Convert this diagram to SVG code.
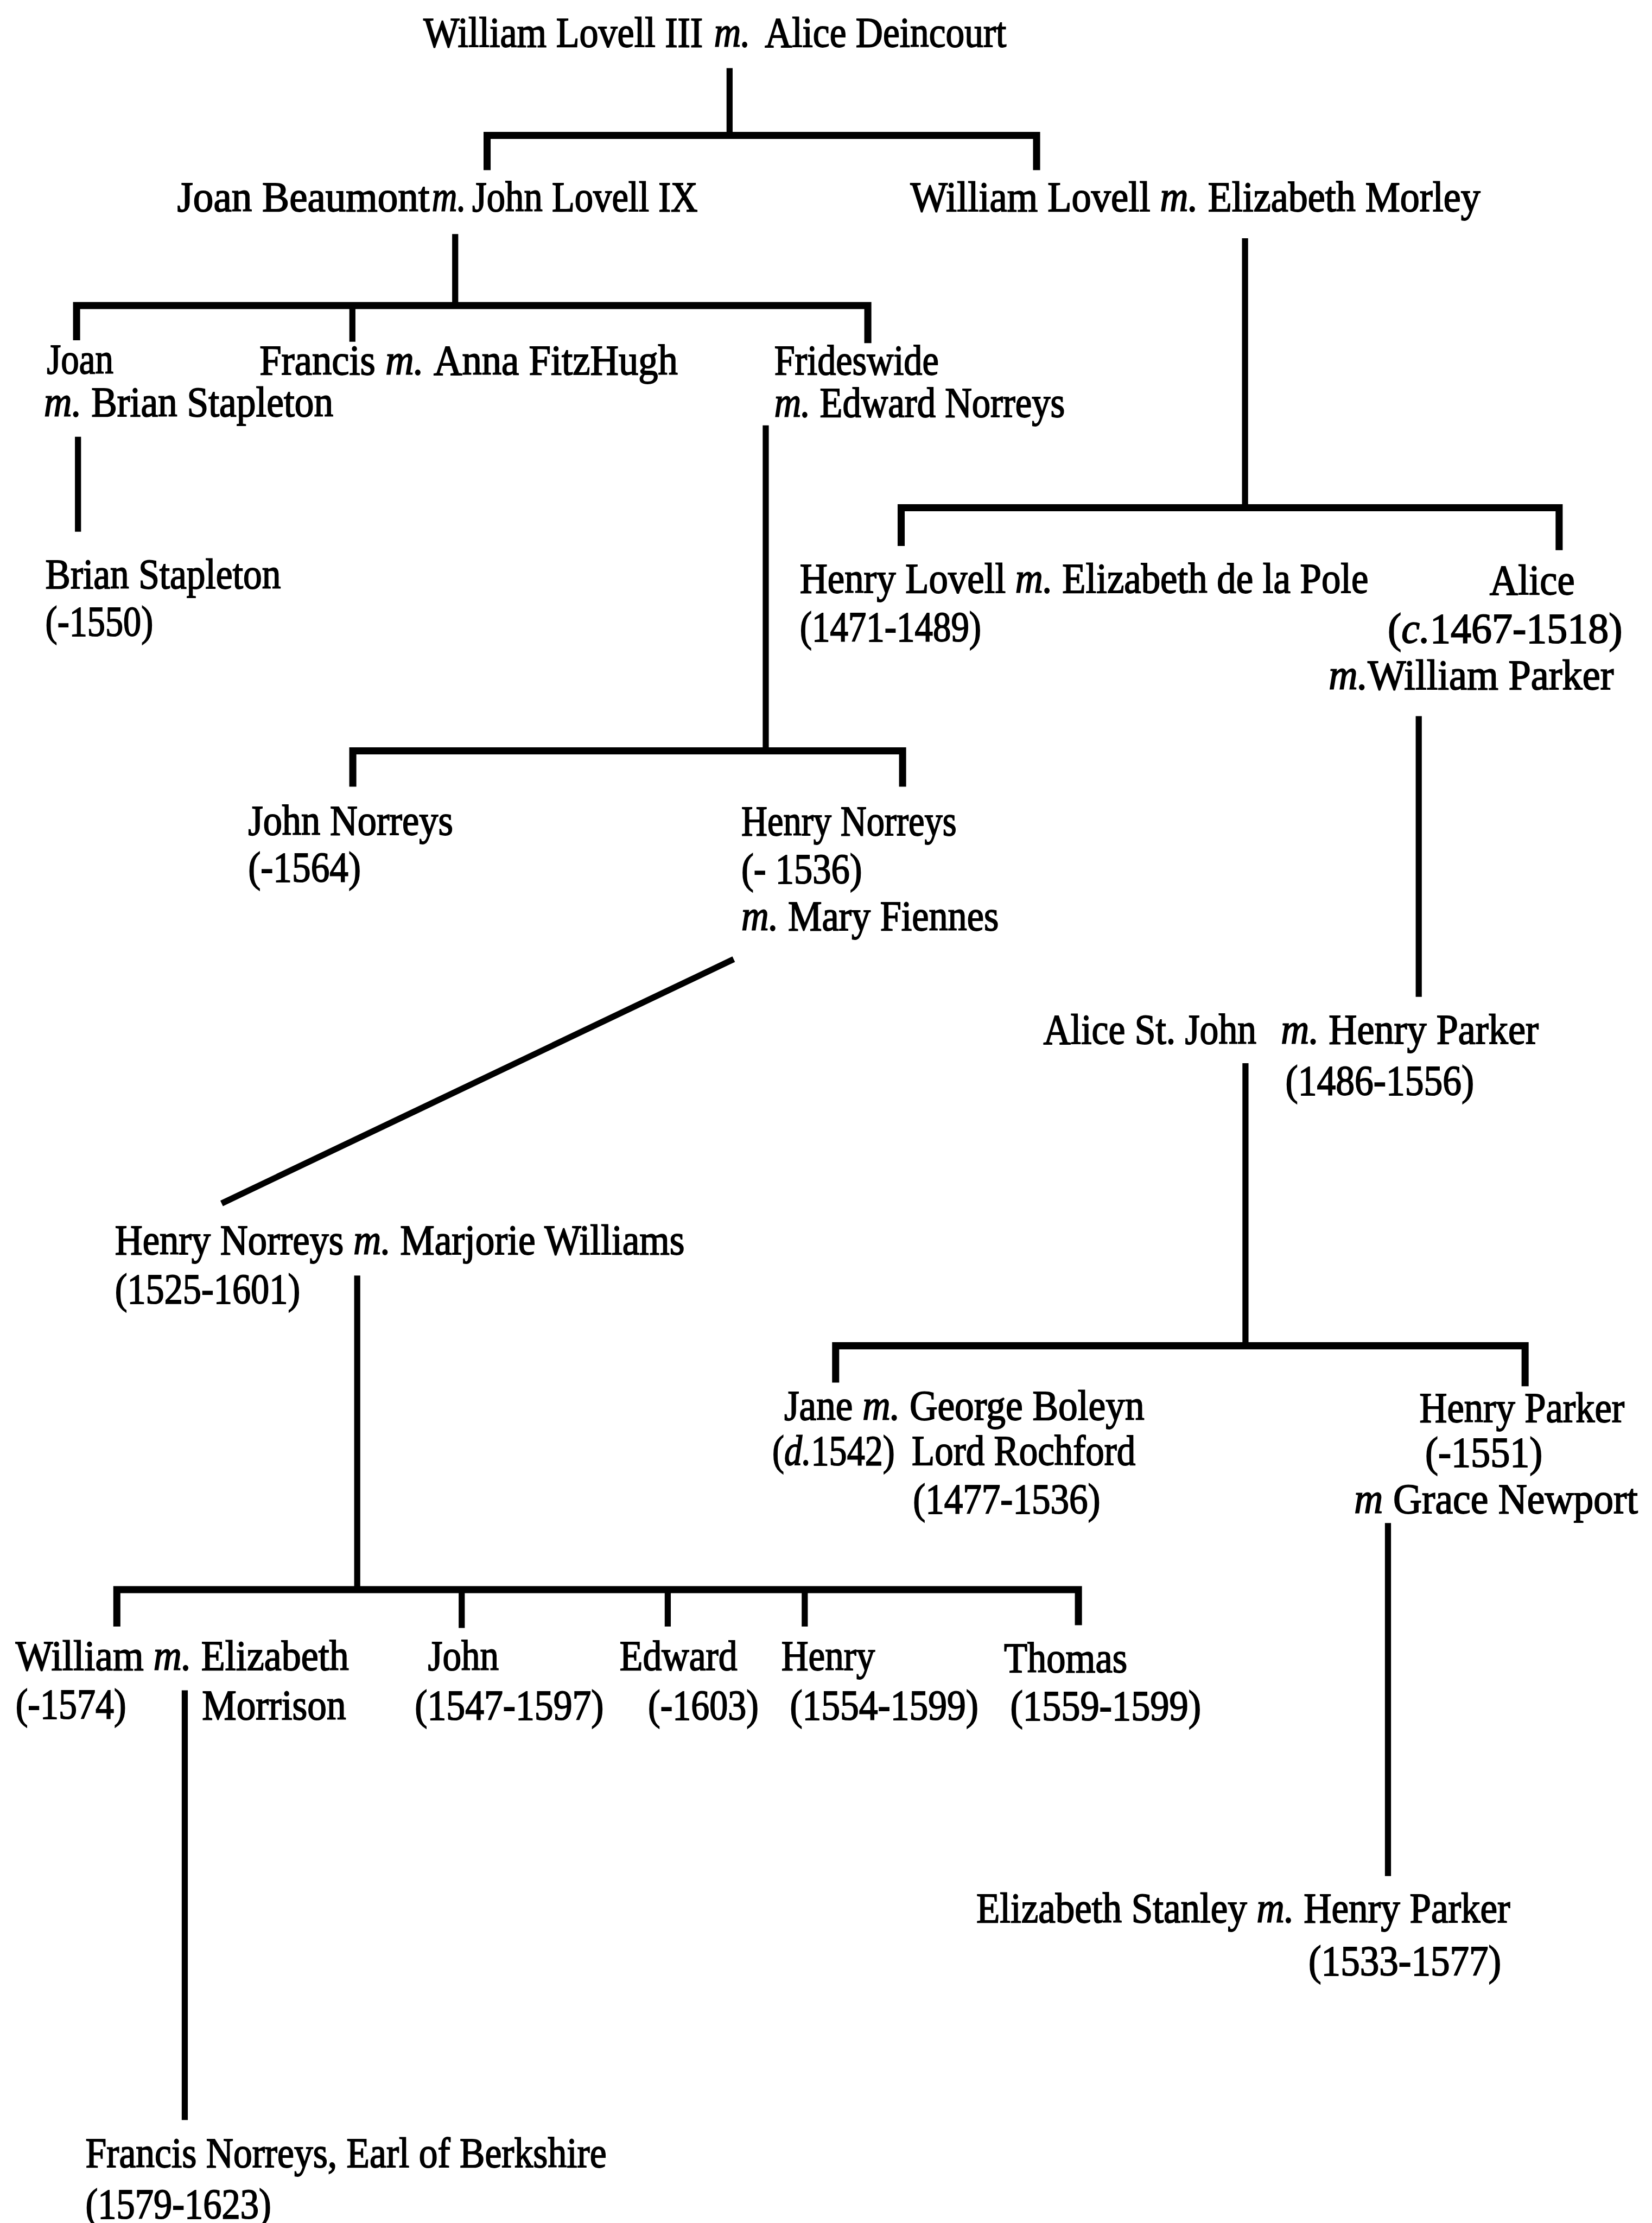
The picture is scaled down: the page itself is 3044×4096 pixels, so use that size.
<svg xmlns="http://www.w3.org/2000/svg" width="3044" height="4096" viewBox="0 0 3044 4096">
  <style>
    text { font-family: "Liberation Serif", "Times New Roman", serif; font-size: 30px; fill: #000; stroke: #000; stroke-width: 0.7px; }
    .i { font-style: italic; }
    .ln { fill: none; stroke: #000; stroke-width: 4.3px; stroke-linejoin: miter; stroke-linecap: butt; }
    .bar { fill: none; stroke: #000; stroke-width: 5px; stroke-linejoin: miter; stroke-linecap: butt; }
  </style>
  <rect width="3044" height="4096" fill="#fff"/>
  <g transform="scale(2.6129)">
    <!-- descent lines -->
    <g id="connectors">
      <path class="ln" d="M514.5 48 V95.5"/>
      <path class="bar" d="M343.5 120 V95.5 H731 V120"/>
      <path class="ln" d="M321 165 V215.5"/>
      <path class="bar" d="M54 240 V215.5 H612 V242"/>
      <path class="ln" d="M248.5 215.5 V241"/>
      <path class="ln" d="M878 168 V358"/>
      <path class="bar" d="M635.5 385 V358 H1099.5 V388"/>
      <path class="ln" d="M55 308 V375"/>
      <path class="ln" d="M540 300 V529.5"/>
      <path class="bar" d="M248.8 554.7 V529.5 H636.5 V554.7"/>
      <path class="ln" d="M1000.5 505 V703"/>
      <path class="ln" d="M517.4 676.4 L156.3 848.6"/>
      <path class="ln" d="M878.3 749.7 V949"/>
      <path class="bar" d="M589.3 975 V949 H1075.5 V977.6"/>
      <path class="ln" d="M978.8 1074 V1323"/>
      <path class="ln" d="M251.9 899.5 V1121"/>
      <path class="bar" d="M82.4 1147 V1121 H760.5 V1146"/>
      <path class="ln" d="M325.6 1121 V1148"/>
      <path class="ln" d="M470.9 1121 V1147"/>
      <path class="ln" d="M567.5 1121 V1147"/>
      <path class="ln" d="M130.3 1192 V1495"/>
    </g>

    <!-- people and couples; the type is a condensed serif, so the labels are squeezed to 90% width; "m." (married) in italic -->
    <g transform="scale(0.9 1)">
      <g id="william-lovell-iii">
        <text x="331.78" y="33" textLength="219" lengthAdjust="spacingAndGlyphs">William Lovell III</text>
        <text class="i" x="559.5" y="33" textLength="28.33" lengthAdjust="spacingAndGlyphs">m.</text>
        <text x="599.22" y="33" textLength="189.33" lengthAdjust="spacingAndGlyphs">Alice Deincourt</text>
      </g>
      <g id="john-lovell-ix">
        <text x="138.89" y="149" textLength="197.78" lengthAdjust="spacingAndGlyphs">Joan Beaumont</text>
        <text class="i" x="338.44" y="149" textLength="26.67" lengthAdjust="spacingAndGlyphs">m.</text>
        <text x="370" y="149" textLength="176.67" lengthAdjust="spacingAndGlyphs">John Lovell IX</text>
      </g>
      <g id="william-lovell">
        <text x="713.33" y="149" textLength="188" lengthAdjust="spacingAndGlyphs">William Lovell</text>
        <text class="i" x="909" y="149" textLength="29.78" lengthAdjust="spacingAndGlyphs">m.</text>
        <text x="946.44" y="149" textLength="213.56" lengthAdjust="spacingAndGlyphs">Elizabeth Morley</text>
      </g>
      <g id="joan">
        <text x="36.67" y="263.5" textLength="52.22" lengthAdjust="spacingAndGlyphs">Joan</text>
        <text class="i" x="34.44" y="293.7" textLength="29.44" lengthAdjust="spacingAndGlyphs">m.</text>
        <text x="71.56" y="293.7" textLength="189.56" lengthAdjust="spacingAndGlyphs">Brian Stapleton</text>
      </g>
      <g id="francis">
        <text x="203.33" y="264" textLength="90.89" lengthAdjust="spacingAndGlyphs">Francis</text>
        <text class="i" x="302" y="264" textLength="30" lengthAdjust="spacingAndGlyphs">m.</text>
        <text x="339.78" y="264" textLength="191.33" lengthAdjust="spacingAndGlyphs">Anna FitzHugh</text>
      </g>
      <g id="frideswide">
        <text x="606.67" y="264" textLength="128.89" lengthAdjust="spacingAndGlyphs">Frideswide</text>
        <text class="i" x="606.67" y="294" textLength="28.33" lengthAdjust="spacingAndGlyphs">m.</text>
        <text x="642.33" y="294" textLength="192.11" lengthAdjust="spacingAndGlyphs">Edward Norreys</text>
      </g>
      <g id="brian-stapleton">
        <text x="35.56" y="415" textLength="184.44" lengthAdjust="spacingAndGlyphs">Brian Stapleton</text>
        <text x="35.56" y="448" textLength="84.44" lengthAdjust="spacingAndGlyphs">(-1550)</text>
      </g>
      <g id="henry-lovell">
        <text x="626.67" y="418" textLength="161.33" lengthAdjust="spacingAndGlyphs">Henry Lovell</text>
        <text class="i" x="795.56" y="418" textLength="29.22" lengthAdjust="spacingAndGlyphs">m.</text>
        <text x="832.33" y="418" textLength="239.89" lengthAdjust="spacingAndGlyphs">Elizabeth de la Pole</text>
        <text x="626.67" y="452" textLength="142.22" lengthAdjust="spacingAndGlyphs">(1471-1489)</text>
      </g>
      <g id="alice-lovell">
        <text x="1167.22" y="419" textLength="66.67" lengthAdjust="spacingAndGlyphs">Alice</text>
        <text x="1087.33" y="453" textLength="10.78" lengthAdjust="spacingAndGlyphs">(</text>
        <text class="i" x="1098.11" y="453" textLength="22.44" lengthAdjust="spacingAndGlyphs">c.</text>
        <text x="1120.56" y="453" textLength="150.67" lengthAdjust="spacingAndGlyphs">1467-1518)</text>
        <text class="i" x="1041.11" y="486" textLength="30.56" lengthAdjust="spacingAndGlyphs">m.</text>
        <text x="1071.67" y="486" textLength="192.78" lengthAdjust="spacingAndGlyphs">William Parker</text>
      </g>
      <g id="john-norreys">
        <text x="194.44" y="588.8" textLength="160.56" lengthAdjust="spacingAndGlyphs">John Norreys</text>
        <text x="194.44" y="621.7" textLength="88.33" lengthAdjust="spacingAndGlyphs">(-1564)</text>
      </g>
      <g id="henry-norreys-1536">
        <text x="580.89" y="589" textLength="168.67" lengthAdjust="spacingAndGlyphs">Henry Norreys</text>
        <text x="580.89" y="622.5" textLength="94.67" lengthAdjust="spacingAndGlyphs">(- 1536)</text>
        <text class="i" x="580.89" y="656" textLength="29" lengthAdjust="spacingAndGlyphs">m.</text>
        <text x="617.44" y="656" textLength="165.11" lengthAdjust="spacingAndGlyphs">Mary Fiennes</text>
      </g>
      <g id="henry-parker-1556">
        <text x="817.56" y="736" textLength="166.89" lengthAdjust="spacingAndGlyphs">Alice St. John</text>
        <text class="i" x="1003.67" y="736" textLength="29.78" lengthAdjust="spacingAndGlyphs">m.</text>
        <text x="1041.11" y="736" textLength="164.44" lengthAdjust="spacingAndGlyphs">Henry Parker</text>
        <text x="1007.22" y="771.8" textLength="147.78" lengthAdjust="spacingAndGlyphs">(1486-1556)</text>
      </g>
      <g id="henry-norreys-1601">
        <text x="90" y="884.5" textLength="179.33" lengthAdjust="spacingAndGlyphs">Henry Norreys</text>
        <text class="i" x="276.89" y="884.5" textLength="29.22" lengthAdjust="spacingAndGlyphs">m.</text>
        <text x="313.56" y="884.5" textLength="222.89" lengthAdjust="spacingAndGlyphs">Marjorie Williams</text>
        <text x="90" y="919" textLength="145.22" lengthAdjust="spacingAndGlyphs">(1525-1601)</text>
      </g>
      <g id="jane-parker">
        <text x="614.44" y="1001" textLength="53.78" lengthAdjust="spacingAndGlyphs">Jane</text>
        <text class="i" x="675.78" y="1001" textLength="29.44" lengthAdjust="spacingAndGlyphs">m.</text>
        <text x="712.67" y="1001" textLength="184" lengthAdjust="spacingAndGlyphs">George Boleyn</text>
        <text x="605.11" y="1033" textLength="9.33" lengthAdjust="spacingAndGlyphs">(</text>
        <text class="i" x="614.44" y="1033" textLength="21.11" lengthAdjust="spacingAndGlyphs">d.</text>
        <text x="635.56" y="1033" textLength="65.56" lengthAdjust="spacingAndGlyphs">1542)</text>
        <text x="714.44" y="1033" textLength="175.33" lengthAdjust="spacingAndGlyphs">Lord Rochford</text>
        <text x="715.33" y="1067" textLength="146.89" lengthAdjust="spacingAndGlyphs">(1477-1536)</text>
      </g>
      <g id="henry-parker-1551">
        <text x="1112.22" y="1002.7" textLength="160.67" lengthAdjust="spacingAndGlyphs">Henry Parker</text>
        <text x="1116.67" y="1034" textLength="92" lengthAdjust="spacingAndGlyphs">(-1551)</text>
        <text class="i" x="1061.11" y="1067" textLength="22.56" lengthAdjust="spacingAndGlyphs">m</text>
        <text x="1091.56" y="1067" textLength="191.78" lengthAdjust="spacingAndGlyphs">Grace Newport</text>
      </g>
      <g id="henry-parker-1577">
        <text x="765" y="1355.5" textLength="212.11" lengthAdjust="spacingAndGlyphs">Elizabeth Stanley</text>
        <text class="i" x="984.67" y="1355.5" textLength="29.33" lengthAdjust="spacingAndGlyphs">m.</text>
        <text x="1021.56" y="1355.5" textLength="161.78" lengthAdjust="spacingAndGlyphs">Henry Parker</text>
        <text x="1025.22" y="1392.8" textLength="151.11" lengthAdjust="spacingAndGlyphs">(1533-1577)</text>
      </g>
      <g id="william-norreys">
        <text x="12.22" y="1177.7" textLength="100.33" lengthAdjust="spacingAndGlyphs">William</text>
        <text class="i" x="120.22" y="1177.7" textLength="29.78" lengthAdjust="spacingAndGlyphs">m.</text>
        <text x="157.67" y="1177.7" textLength="115.67" lengthAdjust="spacingAndGlyphs">Elizabeth</text>
        <text x="12.22" y="1211.5" textLength="86.67" lengthAdjust="spacingAndGlyphs">(-1574)</text>
        <text x="158.33" y="1212.6" textLength="112.78" lengthAdjust="spacingAndGlyphs">Morrison</text>
      </g>
      <g id="john-norreys-1597">
        <text x="335.33" y="1177.7" textLength="55.56" lengthAdjust="spacingAndGlyphs">John</text>
        <text x="325" y="1212.6" textLength="148.11" lengthAdjust="spacingAndGlyphs">(1547-1597)</text>
      </g>
      <g id="edward-norreys">
        <text x="485.56" y="1177.7" textLength="92.22" lengthAdjust="spacingAndGlyphs">Edward</text>
        <text x="507.78" y="1212.6" textLength="86.67" lengthAdjust="spacingAndGlyphs">(-1603)</text>
      </g>
      <g id="henry-norreys-1599">
        <text x="612.22" y="1177.7" textLength="73.33" lengthAdjust="spacingAndGlyphs">Henry</text>
        <text x="618.89" y="1212.6" textLength="147.78" lengthAdjust="spacingAndGlyphs">(1554-1599)</text>
      </g>
      <g id="thomas-norreys">
        <text x="786.67" y="1179" textLength="96.67" lengthAdjust="spacingAndGlyphs">Thomas</text>
        <text x="791.56" y="1213" textLength="149.56" lengthAdjust="spacingAndGlyphs">(1559-1599)</text>
      </g>
      <g id="francis-norreys">
        <text x="67" y="1528" textLength="408.22" lengthAdjust="spacingAndGlyphs">Francis Norreys, Earl of Berkshire</text>
        <text x="67" y="1564" textLength="145.56" lengthAdjust="spacingAndGlyphs">(1579-1623)</text>
      </g>
    </g>
  </g>
</svg>
